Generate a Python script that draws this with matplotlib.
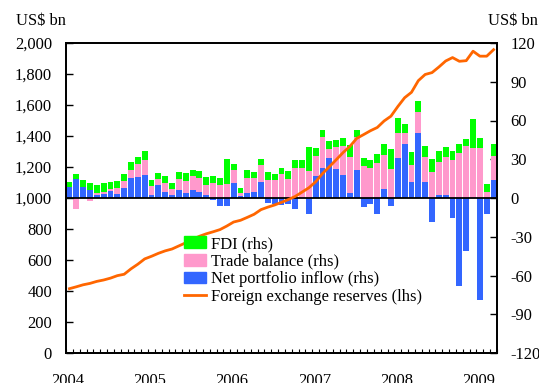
import matplotlib
matplotlib.use("Agg")
import matplotlib.pyplot as plt
from matplotlib.patches import Patch
from matplotlib.lines import Line2D
from matplotlib.ticker import FuncFormatter, FixedLocator
import numpy as np

plt.rcParams['font.family'] = ['Liberation Serif', 'DejaVu Serif']
plt.rcParams['axes.unicode_minus'] = False

# Monthly data, Jan 2004 - Mar 2009
years = ['2004', '2005', '2006', '2007', '2008', '2009']

portfolio = [8.8, 15.0, 8.8, 6.5, 2.1, 3.4, 5.7, 3.4, 8.0, 15.7, 16.5, 18.1,
             2.6, 10.3, 4.9, 2.6, 6.5, 4.1, 6.5, 4.9, 2.6, -1.3, -5.9, -5.9,
             11.9, 1.8, 4.1, 4.9, 12.6, -3.6, -4.8, -5.2, -4.8, -8.3, 0.0, -12.1,
             17.3, 23.5, 31.2, 22.7, 18.1, 4.1, 21.9, -7.0, -4.4, -12.6, 7.2, -6.5,
             31.2, 42.1, 12.6, 50.6, 12.6, -18.3, 2.6, 2.6, -15.2, -68.5, -40.8, 0.0,
             -79.2, -12.1, 14.2]

trade = [0.0, -8.3, 0.0, -2.7, 2.0, 1.5, 1.5, 4.6, 5.4, 6.2, 10.1, 11.6,
         6.9, 4.7, 6.5, 4.6, 8.5, 9.3, 10.8, 10.8, 7.7, 11.9, 10.3, 11.1,
         10.0, 2.3, 11.6, 10.8, 13.2, 14.2, 14.2, 18.8, 15.0, 23.5, 23.5, 21.2,
         15.5, 24.0, 7.0, 17.0, 22.4, 27.9, 25.6, 25.0, 23.5, 27.4, 26.3, 22.7,
         19.4, 8.5, 13.2, 16.2, 19.4, 20.4, 25.5, 29.4, 29.7, 35.1, 40.5, 39.0,
         39.0, 4.9, 18.6]

fdi = [3.9, 3.9, 5.4, 5.4, 6.2, 7.0, 5.4, 5.4, 5.4, 6.2, 5.4, 6.9,
       4.7, 4.6, 5.9, 4.7, 5.4, 6.2, 4.6, 5.5, 6.2, 5.4, 5.4, 19.4,
       4.7, 3.9, 6.2, 4.7, 4.7, 6.2, 4.6, 4.7, 6.2, 6.2, 6.2, 18.5,
       6.2, 5.4, 6.2, 5.5, 6.2, 9.3, 5.4, 6.2, 6.2, 6.9, 8.6, 15.5,
       11.6, 6.9, 10.1, 8.6, 8.5, 10.1, 8.5, 7.7, 6.9, 7.0, 5.4, 22.4,
       7.7, 6.2, 9.3]

reserves = [415, 427, 440, 449, 462, 471, 483, 499, 508, 543, 573, 607,
            624, 643, 659, 671, 691, 711, 733, 753, 769, 782, 796, 819,
            845, 856, 875, 895, 925, 941, 955, 972, 990, 1010, 1038, 1066,
            1105, 1158, 1202, 1247, 1293, 1333, 1385, 1409, 1434, 1455, 1497, 1528,
            1590, 1647, 1682, 1757, 1797, 1809, 1845, 1884, 1906, 1882, 1886, 1947,
            1915, 1915, 1957]

GREEN = '#00FF00'
PINK = '#FF99CC'
BLUE = '#3366FF'
ORANGE = '#FF6600'
FS = 11.9

n = len(reserves)
x = np.arange(n) + 0.5

fig = plt.figure(figsize=(5.39, 3.83), dpi=100)
ax = fig.add_axes([66 / 539, 1 - 353 / 383, (497 - 66) / 539, (353 - 43) / 383])
ax2 = ax.twinx()

# Stacked flows on the right-hand scale: positives stack up, negatives stack down
pos_base = np.zeros(n)
neg_base = np.zeros(n)
for vals, col in [(portfolio, BLUE), (trade, PINK), (fdi, GREEN)]:
    v = np.array(vals, dtype=float)
    bottoms = np.where(v >= 0, pos_base, neg_base)
    ax.bar(x, v, bottom=bottoms, width=0.86, color=col, linewidth=0, zorder=2)
    pos_base += np.where(v >= 0, v, 0)
    neg_base += np.where(v < 0, v, 0)

ax.axhline(0, color='black', lw=1.3, zorder=3)
ax.set_ylim(-120, 120)
ax.set_yticks(np.arange(-120, 121, 30))
ax.yaxis.tick_right()
ax.tick_params(axis='y', direction='in', length=5, width=1, pad=9.5,
               labelsize=FS, right=True, left=False, labelright=True, labelleft=False)

ax.set_xlim(0, n)
ax.xaxis.set_major_locator(FixedLocator(np.arange(len(years)) * 12 + 0.3))
ax.set_xticklabels(years)
ax.xaxis.set_minor_locator(FixedLocator(np.arange(0, n + 1)))
ax.tick_params(axis='x', which='major', length=0, pad=14.5, labelsize=FS)
ax.tick_params(axis='x', which='minor', direction='in', length=3, width=0.8)

# Reserves on the left-hand scale, drawn above the bars
ax2.plot(x, reserves, color=ORANGE, lw=2, zorder=4)
ax2.set_ylim(0, 2000)
ax2.set_yticks(np.arange(0, 2001, 200))
ax2.yaxis.set_major_formatter(FuncFormatter(lambda v, p: f'{int(v):,}'))
ax2.yaxis.tick_left()
ax2.tick_params(axis='y', direction='in', length=5, width=1, pad=10,
                labelsize=FS, left=True, right=False, labelleft=True, labelright=False)

for a in (ax, ax2):
    for s in a.spines.values():
        s.set_linewidth(1.3)
        s.set_color('black')

fig.text(16 / 539, 1 - 21 / 383, 'US$ bn', ha='left', va='center', fontsize=FS)
fig.text(538 / 539, 1 - 21 / 383, 'US$ bn', ha='right', va='center', fontsize=FS)

handles = [Patch(color=GREEN), Patch(color=PINK), Patch(color=BLUE),
           Line2D([0], [0], color=ORANGE, lw=2)]
labels = ['FDI (rhs)', 'Trade balance (rhs)', 'Net portfolio inflow (rhs)',
          'Foreign exchange reserves (lhs)']
ax2.legend(handles, labels, loc='upper left', bbox_to_anchor=(184 / 539, 1 - 236 / 383),
           bbox_transform=fig.transFigure, frameon=False, fontsize=FS,
           handlelength=1.35, handleheight=0.7, handletextpad=0.3,
           labelspacing=0.1, borderpad=0, borderaxespad=0)

fig.savefig('out.png', dpi=100)
